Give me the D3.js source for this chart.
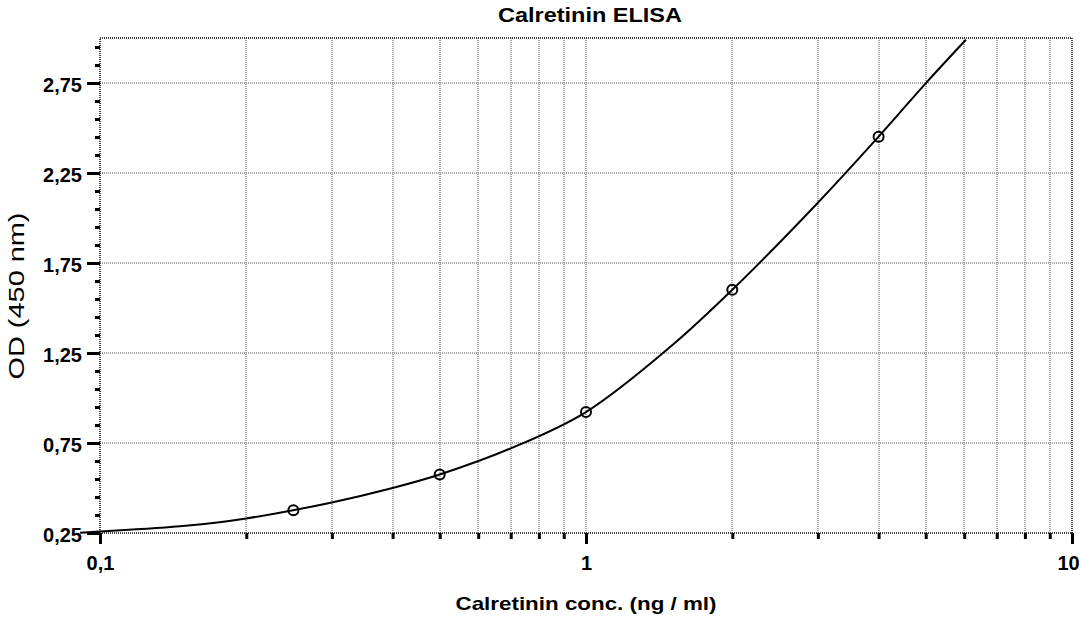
<!DOCTYPE html>
<html>
<head>
<meta charset="utf-8">
<script src="https://cdn.jsdelivr.net/npm/d3@7"></script>
<style>
  body { margin: 0; background: #fff; }
  svg { display: block; font-family: "Liberation Sans", Arial, sans-serif; }
</style>
</head>
<body>
<div id="chart"></div>
<script>
// standards (measured points)
const stdConc = [0.25, 0.5, 1, 2, 4]
const stdOD = [0.377, 0.575, 0.922, 1.601, 2.452]

// fitted curve
const curveConc = [0.091, 0.1, 0.15, 0.2, 0.3, 0.4, 0.5, 0.7, 1, 1.5, 2, 3, 4, 5, 6.05]
const curveOD = [0.252, 0.258, 0.29, 0.331, 0.42, 0.5, 0.575, 0.72, 0.922, 1.29, 1.601, 2.085, 2.452, 2.748, 2.99]

// axes
const xMajor = [0.1, 1, 10]
const xMinor = [0.2, 0.3, 0.4, 0.5, 0.6, 0.7, 0.8, 0.9, 2, 3, 4, 5, 6, 7, 8, 9]
const yMajor = [0.25, 0.75, 1.25, 1.75, 2.25, 2.75]
const yMinor = d3.range(0.35, 3.0, 0.1).filter(v => Math.abs(((v - 0.25) / 0.5) - Math.round((v - 0.25) / 0.5)) > 0.01)

const title = "Calretinin ELISA"
const xTitle = "Calretinin conc. (ng / ml)"
const yTitle = "OD (450 nm)"

var width = 1081
var height = 618
var margin = { top: 38, right: 9, bottom: 85, left: 100 }

var locale = d3.formatLocale({ decimal: ",", thousands: ".", grouping: [3], currency: ["", ""] })
var fmt = v => locale.format("~g")(v)

var x = d3.scaleLog().domain([0.1, 10]).range([margin.left, width - margin.right])
var y = d3.scaleLinear().domain([0.25, 3.0]).range([height - margin.bottom, margin.top])

var svg = d3.select("#chart").append("svg")
    .attr("width", width)
    .attr("height", height)

svg.append("rect").attr("width", width).attr("height", height).attr("fill", "#fff")

// grid
var grid = svg.append("g")
    .attr("stroke", "#a8a8a8")
    .attr("stroke-width", 2)
    .attr("stroke-dasharray", "1,1")

grid.selectAll("line.v")
    .data(xMinor.concat([1]))
    .enter().append("line")
    .attr("class", "v")
    .attr("x1", d => Math.round(x(d))).attr("x2", d => Math.round(x(d)))
    .attr("y1", y.range()[1]).attr("y2", y.range()[0])

grid.selectAll("line.h")
    .data(yMajor.slice(1))
    .enter().append("line")
    .attr("class", "h")
    .attr("y1", d => Math.round(y(d))).attr("y2", d => Math.round(y(d)))
    .attr("x1", x.range()[0]).attr("x2", x.range()[1])

// frame
svg.append("rect")
    .attr("x", x.range()[0]).attr("y", y.range()[1])
    .attr("width", x.range()[1] - x.range()[0])
    .attr("height", y.range()[0] - y.range()[1])
    .attr("fill", "none")
    .attr("stroke", "#444")
    .attr("stroke-width", 2)
    .attr("stroke-dasharray", "1,1")

// y axis
var yAxisMinor = svg.append("g")
    .attr("transform", `translate(${margin.left},0)`)
    .call(d3.axisLeft(y).tickValues(yMinor).tickSize(5).tickFormat(""))
var yAxis = svg.append("g")
    .attr("transform", `translate(${margin.left},0)`)
    .call(d3.axisLeft(y).tickValues(yMajor).tickSize(13).tickPadding(5).tickFormat(fmt))

// x axis
var xAxisMinor = svg.append("g")
    .attr("transform", `translate(0,${height - margin.bottom})`)
    .call(d3.axisBottom(x).tickValues(xMinor).tickSize(6).tickFormat(""))
var xAxis = svg.append("g")
    .attr("transform", `translate(0,${height - margin.bottom})`)
    .call(d3.axisBottom(x).tickValues(xMajor).tickSize(11).tickFormat(fmt))

svg.selectAll(".domain").remove()
svg.selectAll(".tick line").attr("stroke", "#000").attr("stroke-width", 3)
svg.selectAll(".tick text")
    .attr("fill", "#000")
    .style("font-size", "20px")
    .style("font-weight", "bold")
    .style("font-family", "'Liberation Sans', Arial, sans-serif")
yAxis.selectAll(".tick text").attr("dy", "0.42em")
xAxis.selectAll(".tick text").attr("y", 23).attr("dy", "0.71em")
xAxis.selectAll(".tick text").filter(d => d === 10).attr("dx", -4)

// curve
var line = d3.line()
    .x((d, i) => x(curveConc[i]))
    .y((d, i) => y(curveOD[i]))
    .curve(d3.curveCatmullRom.alpha(0.5))

svg.append("path")
    .datum(curveConc)
    .attr("d", line)
    .attr("fill", "none")
    .attr("stroke", "#000")
    .attr("stroke-width", 2)

// points
svg.selectAll("circle.std")
    .data(stdConc)
    .enter().append("circle")
    .attr("class", "std")
    .attr("cx", d => x(d))
    .attr("cy", (d, i) => y(stdOD[i]))
    .attr("r", 5)
    .attr("fill", "none")
    .attr("stroke", "#000")
    .attr("stroke-width", 2)

// titles
svg.append("text")
    .attr("x", 590).attr("y", 22)
    .attr("text-anchor", "middle")
    .attr("textLength", 184).attr("lengthAdjust", "spacingAndGlyphs")
    .style("font-size", "20px").style("font-weight", "bold")
    .text(title)

svg.append("text")
    .attr("x", 586).attr("y", 610)
    .attr("text-anchor", "middle")
    .attr("textLength", 261).attr("lengthAdjust", "spacingAndGlyphs")
    .style("font-size", "19px").style("font-weight", "bold")
    .text(xTitle)

svg.append("text")
    .attr("transform", "translate(24,296) rotate(-90)")
    .attr("text-anchor", "middle")
    .attr("textLength", 167).attr("lengthAdjust", "spacingAndGlyphs")
    .style("font-size", "22px")
    .text(yTitle)
</script>
</body>
</html>
